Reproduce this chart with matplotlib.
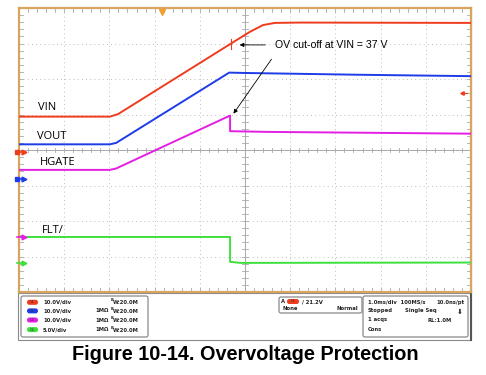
import numpy as np
import matplotlib.pyplot as plt
from matplotlib.patches import FancyBboxPatch, Rectangle

# scope traces, x in divisions (1 ms/div), y in divisions from bottom of screen
t_vin = [0, 2.01, 2.19, 4.68, 5.11, 5.40, 5.66, 6.22, 10]
vin = [4.94, 4.94, 5.01, 6.99, 7.33, 7.52, 7.58, 7.59, 7.58]

t_vout = [0, 2.01, 2.15, 4.65, 5.0, 7.5, 10]
vout = [4.16, 4.16, 4.20, 6.18, 6.17, 6.12, 6.08]

t_hgate = [0, 2.01, 2.15, 4.67, 4.67, 5.5, 10]
hgate = [3.44, 3.44, 3.48, 4.97, 4.53, 4.51, 4.46]

t_flt = [0, 4.67, 4.67, 4.9, 10]
flt = [1.55, 1.55, 0.85, 0.82, 0.83]

# channel ground markers on left edge
marker_y = [3.94, 3.17, 1.56, 0.83]

c_red = "#ef3b1e"
c_blue = "#1e3ce8"
c_mag = "#e41ee4"
c_green = "#3ee03e"
c_frame = "#d8a45e"
c_grid = "#a8a8a8"
W, H = 486, 375

fig = plt.figure(figsize=(W / 100, H / 100), dpi=100)
ov = fig.add_axes([0, 0, 1, 1])
ov.set_xlim(0, W)
ov.set_ylim(H, 0)
ov.axis("off")

ax = fig.add_axes([19 / W, (H - 292) / H, 452 / W, 284 / H])
ax.set_xlim(0, 10)
ax.set_ylim(0, 8)
ax.set_xticks([])
ax.set_yticks([])
for s in ax.spines.values():
    s.set_color(c_frame)
    s.set_linewidth(1.6)

# dotted grid
for gx in range(1, 10):
    ax.plot([gx, gx], [0, 8], color=c_grid, lw=0.6, ls=(0, (1, 4)), zorder=1)
for gy in range(1, 8):
    ax.plot([0, 10], [gy, gy], color=c_grid, lw=0.6, ls=(0, (1, 4)), zorder=1)
ax.axvline(5, color=c_grid, lw=0.7, zorder=1)
ax.axhline(4, color=c_grid, lw=0.7, zorder=1)
# minor ticks on centre lines and border
for mx in np.arange(0.2, 10, 0.2):
    ax.plot([mx, mx], [3.93, 4.07], color=c_grid, lw=0.6, zorder=1)
    ax.plot([mx, mx], [0, 0.1], color=c_grid, lw=0.6, zorder=1)
    ax.plot([mx, mx], [7.9, 8], color=c_grid, lw=0.6, zorder=1)
for my in np.arange(0.2, 8, 0.2):
    ax.plot([4.94, 5.06], [my, my], color=c_grid, lw=0.6, zorder=1)
    ax.plot([0, 0.08], [my, my], color=c_grid, lw=0.6, zorder=1)
    ax.plot([9.92, 10], [my, my], color=c_grid, lw=0.6, zorder=1)

ax.plot(t_vin, vin, color=c_red, lw=1.4, zorder=3)
ax.plot(t_vout, vout, color=c_blue, lw=1.4, zorder=3)
ax.plot(t_hgate, hgate, color=c_mag, lw=1.4, zorder=3)
ax.plot(t_flt, flt, color=c_green, lw=1.4, zorder=3)
# cut-off tick on VIN
ax.plot([4.68, 4.68], [6.85, 7.13], color=c_red, lw=0.8, zorder=3)

for my, c in zip(marker_y, [c_red, c_blue, c_mag, c_green]):
    ax.plot([-0.04, 0.12], [my, my], color=c, lw=1.2, clip_on=False, zorder=4)
    ax.plot([0.1], [my], marker=">", ms=3.5, color=c, clip_on=False, zorder=4)
ax.plot([-0.05], [marker_y[0]], marker="s", ms=3, color=c_red, clip_on=False, zorder=4)
ax.plot([-0.05], [marker_y[1]], marker="s", ms=3, color=c_blue, clip_on=False, zorder=4)
# trigger level and position markers
ax.plot([9.8, 9.92], [5.61, 5.61], color=c_red, lw=0.8, zorder=4)
ax.plot([9.8], [5.61], marker="<", ms=2.5, color=c_red, zorder=4)
ax.plot([3.16], [7.9], marker="v", ms=4, color="#f0a030", clip_on=False, zorder=4)

lab = dict(fontsize=8, family="Open Sans", va="center", ha="left")
ax.text(0.42, 5.2, "VIN", **lab)
ax.text(0.40, 4.38, "VOUT", **lab)
ax.text(0.46, 3.64, "HGATE", **lab)
ax.text(0.50, 1.74, "FLT/", **lab)

ax.text(5.66, 6.96, "OV cut-off at VIN = 37 V", fontsize=7.6, family="Liberation Sans",
        va="center", ha="left")
arr = dict(arrowstyle="-|>", color="black", lw=0.6, mutation_scale=6)
ax.annotate("", xy=(4.82, 6.96), xytext=(5.51, 6.96), arrowprops=arr)
ax.annotate("", xy=(4.71, 4.96), xytext=(5.62, 6.62), arrowprops=arr)

# status panel
ov.add_patch(Rectangle((18, 293), 453, 47, fill=False, ec="#8a8a8a", lw=0.8))
ov.plot([471, 471], [8, 340], color="#555555", lw=1.5)
for x0, y0, w, h in [(21, 296, 127, 41), (279, 297, 83, 16), (363, 296, 105, 41)]:
    ov.add_patch(FancyBboxPatch((x0, y0), w, h, boxstyle="round,pad=0,rounding_size=2",
                                fill=False, ec="#8a8a8a", lw=0.9))

st = dict(fontsize=3.8, weight="bold", family="DejaVu Sans", va="center", color="#222222")
rows = [302.3, 310.9, 320.0, 329.6]
pill_cols = [c_red, c_blue, c_mag, c_green]
volts = ["10.0V/div", "10.0V/div", "10.0V/div", "5.0V/div"]
for i, (y, c, v) in enumerate(zip(rows, pill_cols, volts)):
    ov.add_patch(FancyBboxPatch((27, y - 2.5), 11, 5, boxstyle="round,pad=0,rounding_size=2.4",
                                fc=c, ec="none"))
    ov.text(32.5, y, "C%d" % (i + 1), fontsize=2.6, ha="center", va="center", color="#333333")
    ov.text(43, y, v, ha="left", **st)
    if i > 0:
        ov.text(95, y, "1M\u03a9", ha="left", **st)
    ov.text(111, y, "B", ha="left", fontsize=2.6, weight="bold", va="bottom", color="#222222")
    ov.text(113, y + 0.5, "W:20.0M", ha="left", **st)

ov.text(281, 301.5, "A", ha="left", **st)
ov.add_patch(FancyBboxPatch((287, 299), 12, 5, boxstyle="round,pad=0,rounding_size=2.4",
                            fc=c_red, ec="none"))
ov.text(293, 301.5, "C1", fontsize=2.6, ha="center", va="center", color="#333333")
ov.text(302, 301.5, "/ 21.2V", ha="left", **st)
ov.text(282, 308.5, "None", ha="left", **st)
ov.text(358, 308.5, "Normal", ha="right", **st)

ov.text(368, rows[0], "1.0ms/div  100MS/s", ha="left", **st)
ov.text(465, rows[0], "10.0ns/pt", ha="right", **st)
ov.text(368, rows[1], "Stopped", ha="left", **st)
ov.text(405, rows[1], "Single Seq", ha="left", **st)
ov.text(460, rows[1] + 1, "\u2b07", ha="center", fontsize=5, va="center", color="#222222")
ov.text(368, rows[2], "1 acqs", ha="left", **st)
ov.text(452, rows[2], "RL:1.0M", ha="right", **st)
ov.text(368, rows[3], "Cons", ha="left", **st)

ov.text(245, 355, "Figure 10-14. Overvoltage Protection", fontsize=14.3, weight="bold",
        family="Liberation Sans", ha="center", va="center", color="black")

fig.savefig("out.png", dpi=100)
